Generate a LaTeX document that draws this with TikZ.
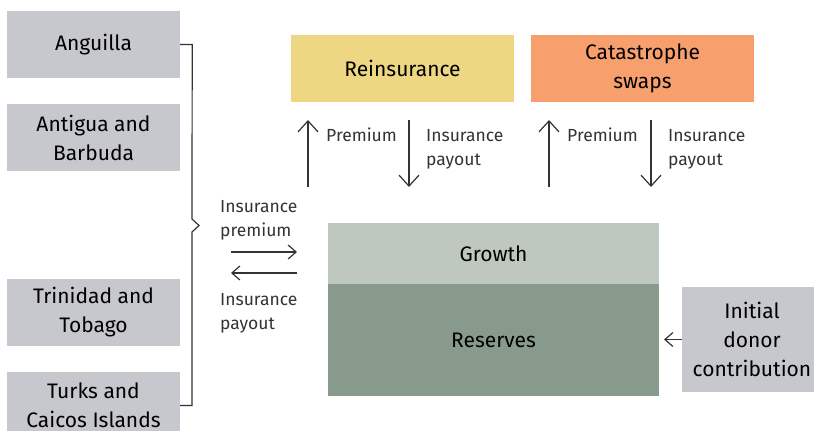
\documentclass[tikz,border=0pt]{standalone}
\usepackage{fontspec}
\setmainfont{Fira Sans}
\usetikzlibrary{arrows.meta}

\definecolor{islandgray}{HTML}{C7C8CD}
\definecolor{reinsyellow}{HTML}{EDD782}
\definecolor{catorange}{HTML}{F7A06E}
\definecolor{growthgreen}{HTML}{BEC8BF}
\definecolor{reservegreen}{HTML}{889A8C}
\definecolor{inkgray}{HTML}{333333}

\begin{document}
\begin{tikzpicture}[x=1pt,y=-1pt]
    \useasboundingbox (0,0) rectangle (814,431);

    \tikzstyle{box} = [fill=islandgray, inner sep=0pt, align=center, text=black,
        minimum width=173pt, minimum height=67pt,
        font=\fontsize{21}{29}\selectfont];
    \tikzstyle{lbl} = [inner sep=0pt, align=left, anchor=base west, text=inkgray,
        font=\fontsize{17.5}{24}\selectfont];
    \tikzstyle{flow} = [draw=inkgray, line width=1.2pt, -{Straight Barb[length=11pt,width=20pt]}];
    \tikzstyle{flowsmall} = [draw=inkgray, line width=1.2pt, -{Straight Barb[length=8pt,width=14pt]}];

    % member countries
    \node[box] (anguilla) at (93.5,44.5) {Anguilla};
    \node[box] (antigua) at (93.5,137.5) {Antigua and\\Barbuda};
    \node[box] (trinidad) at (93.5,312.5) {Trinidad and\\Tobago};
    \node[box] (turks) at (93.5,405.5) {Turks and\\Caicos Islands};
    \draw[inkgray, line width=1.2pt] (anguilla.east) -- ++(12,0) -- (192,219)
        -- (199,225.5) -- (192,232) -- (192,405.5) -- (turks.east);

    % risk transfer
    \node[box, fill=reinsyellow, minimum width=223pt, minimum height=67pt] (reins) at (402.5,68.5) {Reinsurance};
    \node[box, fill=catorange, minimum width=223pt, minimum height=67pt] (cat) at (642.5,68.5) {Catastrophe\\swaps};

    % the fund
    \node[box, fill=growthgreen, minimum width=331pt, minimum height=61pt] (growth) at (493.5,253.5) {Growth};
    \node[box, fill=reservegreen, minimum width=331pt, minimum height=112pt] (reserves) at (493.5,340) {Reserves};
    \node[box, minimum width=140pt, minimum height=105pt] (donor) at (752,339.5) {Initial\\donor\\contribution};

    \coordinate (up1 bot) at (308,187);   \coordinate (up1 top) at (308,120);
    \coordinate (dn1 top) at (409,120);   \coordinate (dn1 bot) at (409,187);
    \coordinate (up2 bot) at (549,187);   \coordinate (up2 top) at (549,120);
    \coordinate (dn2 top) at (651,120);   \coordinate (dn2 bot) at (651,187);
    \coordinate (prem left) at (231,252); \coordinate (prem right) at (297,252);
    \coordinate (pay right) at (297,273); \coordinate (pay left) at (231,273);
    \coordinate (donor in) at (664,339.5);

    \draw[flow] (up1 bot) -- (up1 top);
    \draw[flow] (dn1 top) -- (dn1 bot);
    \draw[flow] (up2 bot) -- (up2 top);
    \draw[flow] (dn2 top) -- (dn2 bot);
    \draw[flowsmall] (prem left) -- (prem right);
    \draw[flowsmall] (pay right) -- (pay left);
    \draw[flowsmall] (donor.west) -- (donor in);

    % base of a two-line label is its last line
    \node[lbl] (prem1) at (326,141) {Premium};
    \node[lbl] (pay1) at (426,165) {Insurance\\payout};
    \node[lbl] (prem2) at (567,141) {Premium};
    \node[lbl] (pay2) at (668,165) {Insurance\\payout};
    \node[lbl] (inprem) at (220,236) {Insurance\\premium};
    \node[lbl] (inpay) at (220,329) {Insurance\\payout};
\end{tikzpicture}
\end{document}
